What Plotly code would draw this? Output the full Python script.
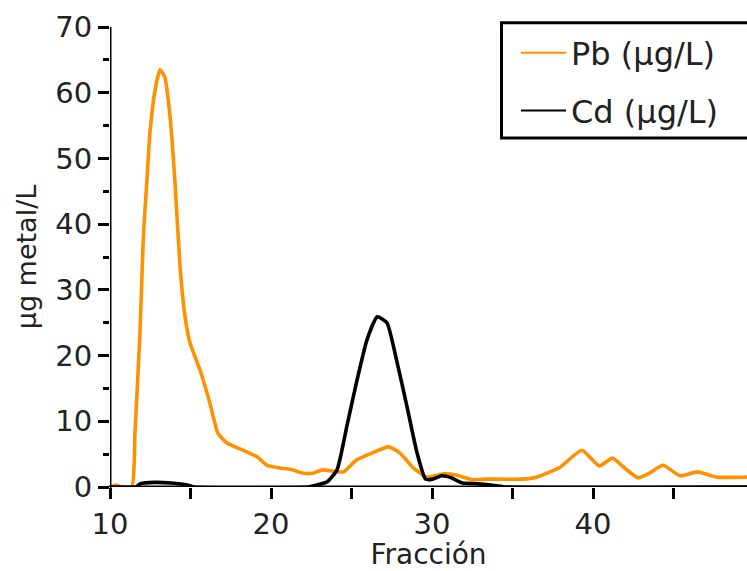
import plotly.graph_objects as go

# Data
pb_x = [10.0, 10.4, 10.7, 11.35, 11.55, 11.86, 12.07, 12.28, 12.48, 12.8, 13.1, 13.4, 13.73, 14.04,
        14.35, 14.66, 14.97, 15.59, 16.2, 16.7, 17.27, 18.26, 19.13, 19.75, 20.56, 21.2, 22.0, 22.6,
        23.2, 23.85, 24.5, 25.3, 26.3, 27.3, 28.0, 28.8, 29.7, 30.7, 31.55, 32.5, 33.4, 35.6, 36.5,
        37.95, 39.3, 40.4, 41.2, 42.1, 42.8, 43.5, 44.35, 45.4, 46.5, 47.7, 49.6, 50.0]
pb_y = [0.0, 0.3, 0.0, 0.0, 8.2, 23.4, 38.0, 46.2, 53.9, 60.4, 63.5, 62.4, 56.3, 46.2,
        33.5, 25.9, 21.9, 17.8, 12.8, 8.2, 6.7, 5.6, 4.6, 3.3, 2.9, 2.7, 2.1, 2.1,
        2.6, 2.4, 2.3, 4.1, 5.2, 6.1, 5.2, 3.0, 1.5, 2.0, 1.8, 1.1, 1.2, 1.2, 1.5,
        3.0, 5.6, 3.2, 4.4, 2.6, 1.4, 2.1, 3.3, 1.7, 2.3, 1.5, 1.5, 1.5]

cd_x = [10.0, 11.6, 11.9, 12.8, 13.8, 14.8, 15.2, 22.3, 22.85, 23.5, 24.1, 24.7, 25.3, 25.96,
        26.6, 27.2, 27.8, 28.45, 29.07, 29.6, 30.05, 30.6, 31.2, 31.9, 32.8, 34.0, 34.5, 50.0]
cd_y = [0.0, 0.0, 0.5, 0.7, 0.6, 0.3, 0.0, 0.0, 0.3, 0.8, 2.6, 9.1, 15.8, 22.4,
        25.9, 25.0, 19.3, 12.2, 5.2, 1.2, 1.2, 1.7, 1.4, 0.6, 0.5, 0.2, 0.0, 0.0]

x_tick_vals = [10, 15, 20, 25, 30, 35, 40, 45]
x_tick_text = ["10", "", "20", "", "30", "", "40", ""]
y_tick_vals = [0, 10, 20, 30, 40, 50, 60, 70]

names = ["Pb (µg/L)", "Cd (µg/L)"]
ORANGE = "#FF9100"
FONT = "DejaVu Sans"
TXT = "#222222"

# plot area geometry (px)
L, R, T, B = 110, 747, 27, 487
W, H = R - L, B - T
X_MIN, X_MAX = 10, 10 + W / 16.1

def px_x(p):
    return (p - L) / W

def px_y(p):
    return (B - p) / H

fig = go.Figure()
fig.add_trace(go.Scatter(x=pb_x, y=pb_y, mode="lines",
                         line=dict(color=ORANGE, width=3.6, shape="spline", smoothing=0.5),
                         showlegend=False, hoverinfo="skip"))
fig.add_trace(go.Scatter(x=cd_x, y=cd_y, mode="lines",
                         line=dict(color="black", width=3.6, shape="spline", smoothing=0.5),
                         showlegend=False, hoverinfo="skip"))
# legend entries (thin sample lines)
fig.add_trace(go.Scatter(x=[None], y=[None], mode="lines", line=dict(color=ORANGE, width=2),
                         name=names[0], legendgroup="a"))
fig.add_trace(go.Scatter(x=[None], y=[None], mode="lines", line=dict(color="black", width=2),
                         name=names[1], legendgroup="b"))

# axis lines drawn on top of the data (as in the reference)
fig.add_shape(type="line", xref="paper", yref="y", x0=px_x(108.5), x1=1.0, y0=0, y1=0,
              line=dict(color="black", width=3), layer="above")
fig.add_shape(type="line", xref="x", yref="paper", x0=X_MIN, x1=X_MIN, y0=px_y(488.5), y1=1.0,
              line=dict(color="black", width=3), layer="above")

# legend frame (runs past the right edge, as in the reference)
fig.add_shape(type="rect", xref="paper", yref="paper",
              x0=px_x(501.5), x1=px_x(800), y0=px_y(138), y1=px_y(22.7),
              line=dict(color="black", width=3), fillcolor="white", layer="above")

fig.update_layout(
    width=747, height=571,
    margin=dict(l=L, r=0, t=T, b=571 - B, autoexpand=False),
    paper_bgcolor="white", plot_bgcolor="white",
    font=dict(family=FONT, color=TXT),
    showlegend=True,
    legend=dict(x=px_x(516), y=px_y(25.5), xanchor="left", yanchor="top",
                bgcolor="rgba(0,0,0,0)", borderwidth=0,
                font=dict(family=FONT, size=32, color=TXT),
                tracegroupgap=13, itemwidth=45),
    xaxis=dict(range=[X_MIN, X_MAX], showline=False,
               ticks="outside", ticklen=11, tickwidth=3, tickcolor="black",
               tickvals=x_tick_vals, ticktext=x_tick_text, showgrid=False, zeroline=False,
               tickfont=dict(family=FONT, size=29, color=TXT), automargin=False,
               title=dict(text="Fracción", font=dict(family=FONT, size=28, color=TXT), standoff=6)),
    yaxis=dict(range=[0, 70], showline=False,
               ticks="outside", ticklen=11, tickwidth=3, tickcolor="black",
               tickvals=y_tick_vals, showgrid=False, zeroline=False,
               minor=dict(dtick=5, ticks="outside", ticklen=6, tickwidth=3, tickcolor="black", showgrid=False),
               tickfont=dict(family=FONT, size=29, color=TXT), automargin=False,
               title=dict(text="µg metal/L", font=dict(family=FONT, size=27, color=TXT), standoff=10)),
)

fig.write_html("out.html", config={"displayModeBar": False},
               post_script="document.body.style.margin='0';")
